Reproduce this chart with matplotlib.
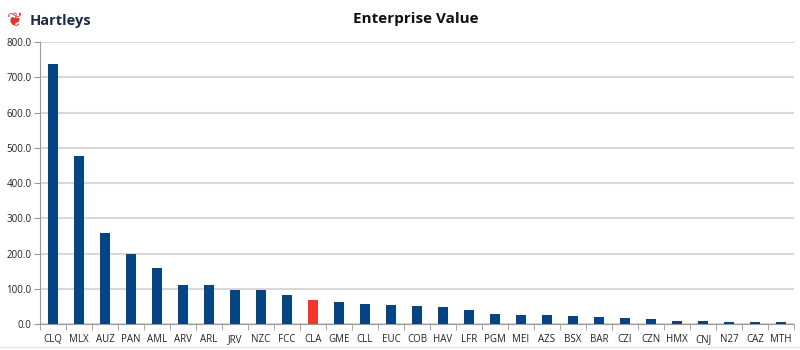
import matplotlib
matplotlib.use('Agg')
import matplotlib.pyplot as plt

# Enterprise value by company
tickers = ['CLQ', 'MLX', 'AUZ', 'PAN', 'AML', 'ARV', 'ARL', 'JRV', 'NZC', 'FCC',
           'CLA', 'GME', 'CLL', 'EUC', 'COB', 'HAV', 'LFR', 'PGM', 'MEI', 'AZS',
           'BSX', 'BAR', 'CZI', 'CZN', 'HMX', 'CNJ', 'N27', 'CAZ', 'MTH']
ev = [738, 477, 257, 199, 158, 111, 110, 97, 97, 83,
      69, 63, 57, 54, 52, 48, 41, 30, 26, 25,
      24, 20, 18, 15, 10, 9, 7, 6, 5]
highlight = 'CLA'

navy = '#054583'
red = '#f5342c'

plt.rcParams['font.family'] = ['Open Sans', 'DejaVu Sans']

fig = plt.figure(figsize=(8, 3.5), dpi=100)
ax = fig.add_axes([0.05, 0.074, 0.9425, 0.806])

colors = [red if t == highlight else navy for t in tickers]
x = range(len(tickers))
ax.bar(x, ev, width=0.42, color=colors, zorder=3)

ax.set_xlim(-0.5, len(tickers) - 0.5)
ax.set_ylim(0, 800)
ax.set_yticks(range(0, 801, 100))
ax.set_yticklabels([f'{v:.1f}' for v in range(0, 801, 100)], fontsize=7, color='#222222')
ax.set_xticks(list(x))
ax.set_xticklabels(tickers, fontsize=7, color='#222222')
ax.set_xticks([i + 0.5 for i in range(-1, len(tickers))], minor=True)
ax.tick_params(axis='x', which='major', length=0, pad=7)
ax.tick_params(axis='x', which='minor', length=4, color='#999999')
ax.tick_params(axis='y', length=4, color='#999999', pad=2)

ax.grid(axis='y', color='#d8d8d8', linewidth=1.5, zorder=0)
for s in ['top', 'right']:
    ax.spines[s].set_visible(False)
ax.spines['left'].set_color('#999999')
ax.spines['bottom'].set_color('#999999')

fig.text(0.52, 0.945, 'Enterprise Value', ha='center', va='center',
         fontsize=11, fontweight='bold', color='#111111')
fig.text(0.008, 0.94, '\u2766', ha='left', va='center', fontsize=14, color='#e8322b',
         family=['DejaVu Sans'])
fig.text(0.037, 0.94, 'Hartleys', ha='left', va='center', fontsize=10.5,
         fontweight='bold', color='#1c2a4a')

fig.add_artist(plt.Line2D([0, 1], [0.008, 0.008], color='#e6e6e6', linewidth=1))

fig.savefig('out.png', dpi=100)
